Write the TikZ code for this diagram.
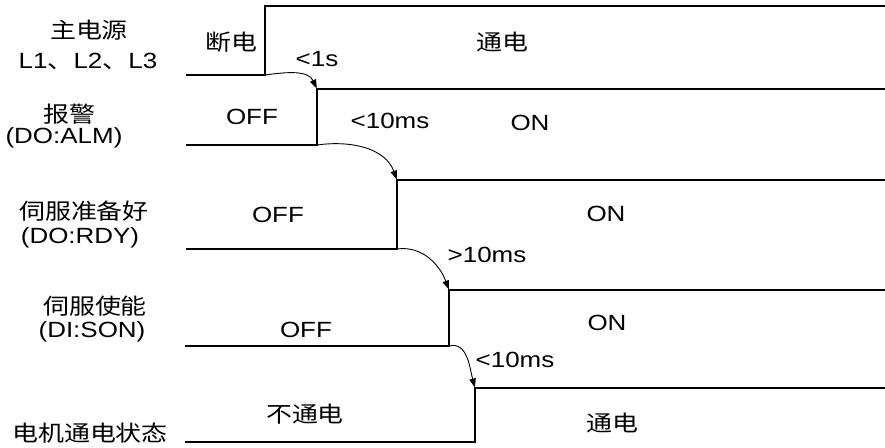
\documentclass[tikz,border=0pt]{standalone}
\usepackage{fontspec}
\setmainfont{Liberation Sans}
\newfontfamily\cjk{Noto Sans CJK SC}
\usetikzlibrary{arrows.meta}
\newcommand{\hs}[1]{\scalebox{1.18}[1]{#1}}
\begin{document}
\begin{tikzpicture}[x=1pt,y=-1pt,
  sig/.style={line width=2.6pt, line join=miter, line cap=butt},
  dly/.style={line width=0.9pt, -{Triangle[length=9pt,width=6.5pt]}, shorten >=0.5pt},
  txt/.style={inner sep=0pt, font=\fontsize{22}{26}\selectfont}]
\useasboundingbox (0,0) rectangle (885,447);
% corners
\coordinate (a1) at (265,75);  \coordinate (a2) at (265,6);
\coordinate (b1) at (317,145); \coordinate (b2) at (317,89);
\coordinate (c1) at (397,249); \coordinate (c2) at (397,180);
\coordinate (d1) at (449,346); \coordinate (d2) at (449,290);
\coordinate (e1) at (475,442); \coordinate (e2) at (475,388);
% waveforms
\draw[sig] (186,75) -- (a1) -- (a2) -- (885,6);
\draw[sig] (186,145) -- (b1) -- (b2) -- (885,89);
\draw[sig] (186,249) -- (c1) -- (c2) -- (885,180);
\draw[sig] (185,346) -- (d1) -- (d2) -- (885,290);
\draw[sig] (185,442) -- (e1) -- (e2) -- (885,388);
% delay arrows
\draw[dly] (a1) to[out=8,in=115] (b2);
\draw[dly] (b1) to[out=8,in=110] (c2);
\draw[dly] (c1) to[out=8,in=110] (d2);
\draw[dly] (d1) to[out=15,in=105] (e2);
% labels
\node[txt] (t1a) at (89,30) {\hs{\cjk 主电源}};
\node[txt] (t1b) at (88,61) {\hs{L1{\cjk 、}L2{\cjk 、}L3}};
\node[txt] (t2a) at (69,114) {\hs{\cjk 报警}};
\node[txt] (t2b) at (64,138) {\hs{(DO:ALM)}};
\node[txt] (t3a) at (84,211) {\hs{\cjk 伺服准备好}};
\node[txt] (t3b) at (80,238) {\hs{(DO:RDY)}};
\node[txt] (t4a) at (95,306) {\hs{\cjk 伺服使能}};
\node[txt] (t4b) at (92,332) {\hs{(DI:SON)}};
\node[txt] (t5a) at (90,433) {\hs{\cjk 电机通电状态}};
% states
\node[txt] (s1a) at (231,42) {\hs{\cjk 断电}};
\node[txt] (s1b) at (502,42) {\hs{\cjk 通电}};
\node[txt] (s2a) at (252,117) {\hs{OFF}};
\node[txt] (s2b) at (530,123) {\hs{ON}};
\node[txt] (s3a) at (278,215) {\hs{OFF}};
\node[txt] (s3b) at (606,214) {\hs{ON}};
\node[txt] (s4a) at (306,330) {\hs{OFF}};
\node[txt] (s4b) at (607,323) {\hs{ON}};
\node[txt] (s5a) at (305,414) {\hs{\cjk 不通电}};
\node[txt] (s5b) at (612,423) {\hs{\cjk 通电}};
% delays
\node[txt] (d1t) at (317,59) {\hs{<1s}};
\node[txt] (d2t) at (390,121) {\hs{<10ms}};
\node[txt] (d3t) at (487,255) {\hs{>10ms}};
\node[txt] (d4t) at (515,360) {\hs{<10ms}};
\end{tikzpicture}
\end{document}
